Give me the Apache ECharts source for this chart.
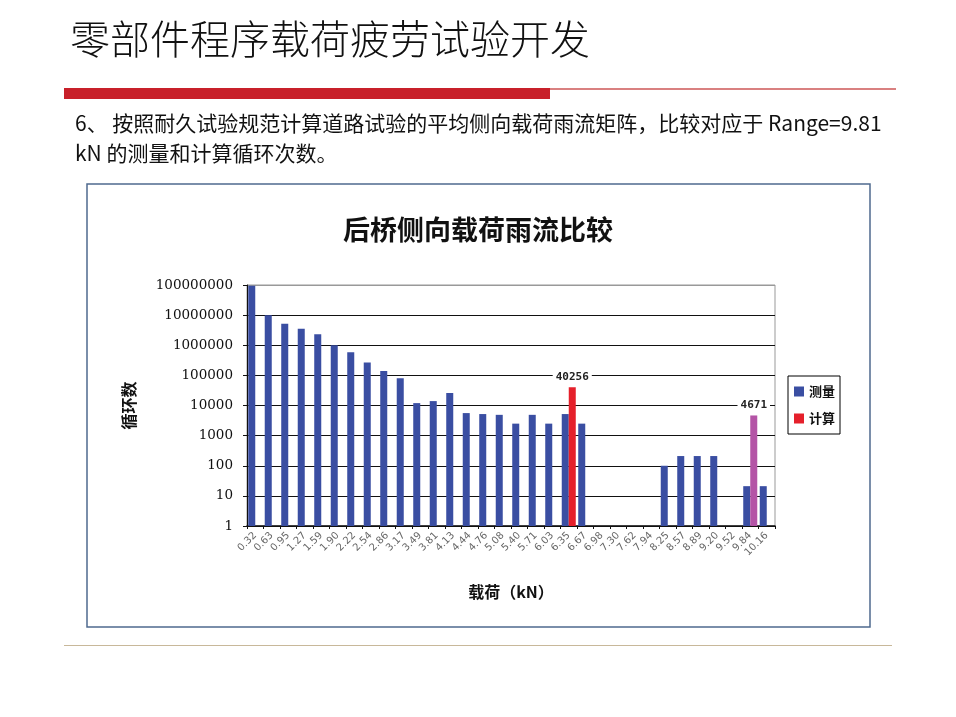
<!DOCTYPE html>
<html><head><meta charset="utf-8">
<script src="https://cdn.jsdelivr.net/npm/echarts@6/dist/echarts.min.js"></script>
<style>html,body{margin:0;padding:0;background:#fff}#c{width:956px;height:717px}</style>
</head><body><div id="c"></div>
<script>
const categories = ['0.32','0.63','0.95','1.27','1.59','1.90','2.22','2.54','2.86','3.17','3.49','3.81','4.13','4.44','4.76','5.08','5.40','5.71','6.03','6.35','6.67','6.98','7.30','7.62','7.94','8.25','8.57','8.89','9.20','9.52','9.84','10.16'];
const measured = [94000000,10000000,5200000,3500000,2300000,1000000,590000,270000,140000,81000,12000,14000,26000,5600,5200,4900,2500,4900,2500,5200,2500,null,null,null,null,100,210,210,210,null,21,21];
const calculated = [null,null,null,null,null,null,null,null,null,null,null,null,null,null,null,null,null,null,null,40256,null,null,null,null,null,null,null,null,null,null,4671,null];
const yTicks = [1,10,100,1000,10000,100000,1000000,10000000,100000000];
const seriesNames = ['测量','计算'];

const chart = echarts.init(document.getElementById('c'), null, {renderer:'canvas'});
const cjk = '"Noto Sans CJK SC", sans-serif';
const calcData = calculated.map((v,i)=> v==null ? '-' : (i===30 ? {value:v, itemStyle:{color:'#B454A6'}} : v));
chart.setOption({
  animation:false,
  backgroundColor:'#fff',
  graphic:[
    {type:'text', left:70, top:19, style:{text:'零部件程序载荷疲劳试验开发', font:'300 40px '+cjk, fill:'#111'}},
    {type:'rect', shape:{x:64,y:88,width:486,height:11}, style:{fill:'#C8202A'}},
    {type:'rect', shape:{x:550,y:88,width:346,height:2}, style:{fill:'#D98080'}},
    {type:'text', left:75, top:113, style:{text:'6、 按照耐久试验规范计算道路试验的平均侧向载荷雨流矩阵，比较对应于 Range=9.81', font:'400 21px '+cjk, fill:'#111'}},
    {type:'text', left:75, top:143, style:{text:'kN 的测量和计算循环次数。', font:'400 21px '+cjk, fill:'#111'}},
    {type:'rect', shape:{x:87,y:184,width:783,height:443}, style:{fill:'none', stroke:'#4F6A8F', lineWidth:1.5}},
    {type:'rect', shape:{x:64,y:645,width:828,height:1}, style:{fill:'#C8B89A'}}
  ],
  title:{text:'后桥侧向载荷雨流比较', left:'center', top:211, textStyle:{fontFamily:cjk, fontSize:27, fontWeight:'bold', color:'#111'}},
  legend:{orient:'vertical', left:788, top:376, data:seriesNames, icon:'rect', itemWidth:10, itemHeight:10, itemGap:14,
    borderColor:'#000', borderWidth:1, padding:[9,5,9,6], textStyle:{fontFamily:cjk, fontSize:13, fontWeight:'bold', color:'#111'}},
  grid:{left:247, right:181, top:285, bottom:191, show:true, borderColor:'#999', borderWidth:1},
  xAxis:{type:'category', data:categories, name:'载荷（kN）', nameLocation:'middle', nameGap:58,
    nameTextStyle:{fontFamily:cjk, fontSize:16, fontWeight:'bold', color:'#111'},
    axisLine:{lineStyle:{color:'#111', width:1.5}}, axisTick:{show:true, length:3, interval:0, lineStyle:{color:'#111'}},
    axisLabel:{interval:0, rotate:45, fontSize:10, color:'#666', fontFamily:'DejaVu Sans', margin:8}},
  yAxis:{type:'log', logBase:10, min:1, max:100000000, name:'循环数', nameLocation:'middle', nameRotate:90, nameGap:110,
    nameTextStyle:{fontFamily:cjk, fontSize:16, fontWeight:'bold', color:'#111'},
    axisLine:{show:true, lineStyle:{color:'#111'}}, axisTick:{show:true, length:4, lineStyle:{color:'#111'}},
    axisLabel:{fontFamily:'DejaVu Serif', fontSize:13.5, color:'#111', margin:14, formatter:v=>String(Math.round(v))},
    splitLine:{show:true, lineStyle:{color:['#111','#111','#111','#111','#111','#111','#111','#111','#999'], width:1}}},
  series:[
    {name:seriesNames[0], type:'bar', data:measured, barGap:'0%', barCategoryGap:'15%', itemStyle:{color:'#3A4EA2'}},
    {name:seriesNames[1], type:'bar', data:calcData, itemStyle:{color:'#E5202B'},
      label:{show:true, position:'top', distance:4, formatter:p=>String(p.value), backgroundColor:'#fff', padding:[1,3],
        fontFamily:'DejaVu Sans Mono', fontSize:11, fontWeight:'bold', color:'#222'}}
  ]
});
</script></body></html>
